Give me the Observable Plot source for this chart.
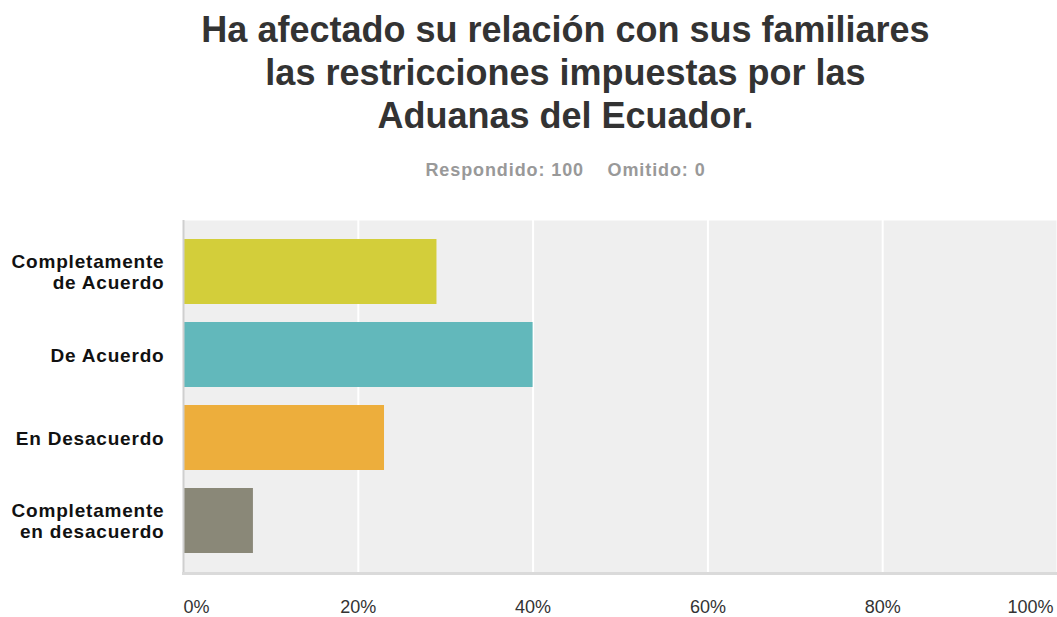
<!DOCTYPE html>
<html>
<head>
<meta charset="utf-8">
<script src="https://cdn.jsdelivr.net/npm/d3@7"></script>
<script src="https://cdn.jsdelivr.net/npm/@observablehq/plot@0.6"></script>
<style>
  html, body { margin: 0; padding: 0; background: #fff; }
  body { width: 1057px; height: 617px; overflow: hidden; font-family: "Liberation Sans", Arial, Helvetica, sans-serif; }
  #title { position: absolute; left: 74px; width: 983px; top: 8px; text-align: center; font-weight: bold; font-size: 36px; line-height: 43px; color: #333; }
  #subtitle { position: absolute; left: 74px; width: 983px; top: 160px; text-align: center; font-weight: bold; font-size: 18px; letter-spacing: 0.9px; color: #999; white-space: pre; }
  #chart { position: absolute; left: 0; top: 195px; }
  g[aria-label="y-axis tick label"] { letter-spacing: 0.8px; }
</style>
</head>
<body>
<div id="title">Ha afectado su relación con sus familiares<br>las restricciones impuestas por las<br>Aduanas del Ecuador.</div>
<div id="subtitle">Respondido: 100    Omitido: 0</div>
<div id="chart"></div>
<script>
const categories = ["Completamente\nde Acuerdo", "De Acuerdo", "En Desacuerdo", "Completamente\nen desacuerdo"];
const percentages = [29, 40, 23, 8];
const colors = ["#d3ce3a", "#62b8bb", "#edae3c", "#8a8878"];
const xTicks = [0, 20, 40, 60, 80, 100];

const data = categories.map((c, i) => ({category: c, value: percentages[i], color: colors[i]}));
const fmt = d => d + "%";
const tickStyle = {tickSize: 0, tickPadding: 27, fontSize: 18, fill: "#333", tickFormat: fmt, label: null};

const plot = Plot.plot({
  width: 1057,
  height: 422,
  marginTop: 25,
  marginBottom: 44,
  marginLeft: 183,
  marginRight: 0,
  style: {fontFamily: "'Liberation Sans', Arial, Helvetica, sans-serif", background: "transparent", overflow: "visible"},
  x: {domain: [0, 100], ticks: xTicks},
  y: {domain: categories, padding: 0.214},
  marks: [
    Plot.frame({fill: "#efefef", stroke: "none"}),
    Plot.gridX(xTicks.slice(1), {stroke: "#ffffff", strokeOpacity: 1, strokeWidth: 2}),
    Plot.barX(data, {x: "value", y: "category", fill: "color"}),
    Plot.ruleX([0], {stroke: "#cfcfcf", strokeWidth: 2}),
    Plot.frame({anchor: "bottom", stroke: "#dadada", strokeWidth: 3}),
    Plot.axisY({tickSize: 0, tickPadding: 19, fontSize: 19, fontWeight: "bold", fill: "#111", lineHeight: 1.09, label: null}),
    Plot.axisX([xTicks[0]], {...tickStyle, textAnchor: "start"}),
    Plot.axisX(xTicks.slice(1, -1), tickStyle),
    Plot.axisX([xTicks[xTicks.length - 1]], {...tickStyle, textAnchor: "end", dx: -4})
  ]
});
document.getElementById("chart").appendChild(plot);
</script>
</body>
</html>
